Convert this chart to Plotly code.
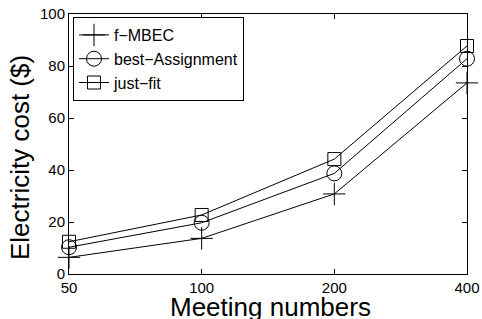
import plotly.graph_objects as go

meetings = ["50", "100", "200", "400"]
f_mbec = [6.4, 13.7, 30.8, 73.5]
best_assignment = [10.3, 19.7, 38.7, 82.8]
just_fit = [12.4, 22.7, 44.2, 87.7]
y_ticks = [0, 20, 40, 60, 80, 100]

FONT = "Liberation Sans, Arial, Helvetica, sans-serif"

fig = go.Figure()
series = [
    ("f\u2212MBEC", f_mbec, "cross-thin-open", 16),
    ("best\u2212Assignment", best_assignment, "circle-open", 15),
    ("just\u2212fit", just_fit, "square-open", 13),
]
for name, vals, sym, size in series:
    fig.add_trace(go.Scatter(
        x=meetings, y=vals, name=name, mode="lines+markers",
        cliponaxis=False,
        line=dict(color="black", width=1),
        marker=dict(symbol=sym, size=size, color="black",
                    line=dict(color="black", width=1)),
    ))

L, R, T, B = 69, 15, 14, 45
W, H = 482, 319
pw, ph = W - L - R, H - T - B

fig.update_layout(
    width=W, height=H,
    margin=dict(l=L, r=R, t=T, b=B),
    paper_bgcolor="white", plot_bgcolor="white",
    font=dict(family=FONT, color="black", size=15),
    showlegend=True,
    legend=dict(
        x=(73 - L) / pw, y=1 - (17 - T) / ph, xanchor="left", yanchor="top",
        bgcolor="white", bordercolor="black", borderwidth=1,
        font=dict(size=16), tracegroupgap=0, itemwidth=30,
    ),
    annotations=[
        dict(text="Meeting numbers", xref="paper", yref="paper",
             x=(270 - L) / pw, y=-(307 - (H - B)) / ph, xanchor="center", yanchor="middle",
             showarrow=False, font=dict(size=26)),
        dict(text="Electricity cost ($)", xref="paper", yref="paper",
             x=-(L - 20) / pw, y=((H - B) - 158) / ph, xanchor="center", yanchor="middle",
             textangle=-90, showarrow=False, font=dict(size=26)),
    ],
)
fig.update_xaxes(
    type="category", range=[0, 3], automargin=False,
    showline=True, linecolor="black", linewidth=1, mirror="ticks",
    ticks="inside", ticklen=5, tickcolor="black",
    showgrid=False, zeroline=False,
    tickfont=dict(size=15),
)
fig.update_yaxes(
    range=[0, 100], tickvals=y_ticks, automargin=False,
    showline=True, linecolor="black", linewidth=1, mirror="ticks",
    ticks="inside", ticklen=5, tickcolor="black",
    showgrid=False, zeroline=False,
    tickfont=dict(size=15),
)

fig.write_html("out.html", config={"displayModeBar": False},
               post_script="document.body.style.margin='0';document.body.style.overflow='hidden';")
